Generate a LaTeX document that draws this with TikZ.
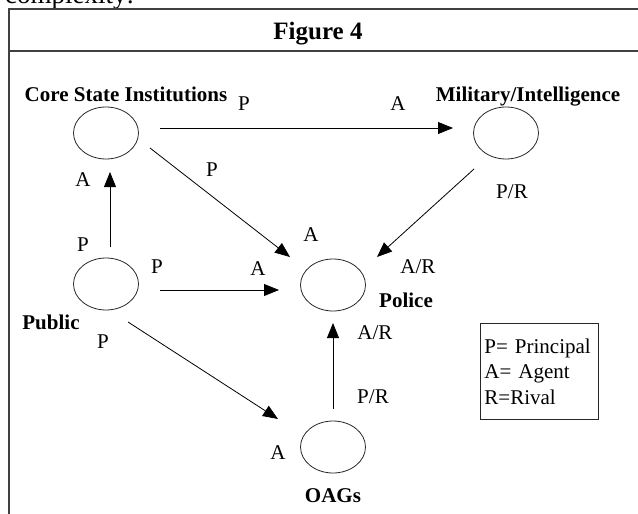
\documentclass[tikz,border=0pt]{standalone}
\usepackage{fontspec}
\setmainfont{Liberation Serif}
\usetikzlibrary{arrows.meta,shapes.geometric,calc}
\begin{document}
\begin{tikzpicture}[x=1pt,y=-1pt,
  actor/.style={draw=black!85, line width=0.8pt, ellipse, minimum width=65pt, minimum height=52pt, inner sep=0pt},
  actorname/.style={font=\fontsize{21}{25}\selectfont\bfseries, anchor=base, inner sep=0pt},
  rolelabel/.style={font=\fontsize{21}{25}\selectfont, inner sep=0pt},
  relarrow/.style={line width=0.8pt, -{Triangle[length=15pt,width=12pt]}},
  frameline/.style={line width=1.6pt, draw=black!75}]
\useasboundingbox (0,0) rectangle (638,514);
\clip (0,0) rectangle (638,514);
% cut-off body text above the figure
\node[anchor=base west, inner sep=0pt, font=\fontsize{27}{30}\selectfont] (intro) at (5,3) {complexity:};
% frame
\draw[frameline] (9,540) -- (9,9) -- (660,9);
\draw[frameline] (9,51) -- (660,51);
\node[font=\fontsize{25}{30}\selectfont\bfseries, anchor=base, inner sep=0pt] (title) at (318,39) {Figure 4};
% actors
\node[actor] (csi) at (106,133) {};
\node[actor] (mil) at (506,133) {};
\node[actor] (pub) at (106,284) {};
\node[actor] (pol) at (333,285) {};
\node[actor] (oag) at (333,447) {};
% actor names
\node[actorname] (csil) at (126,101) {Core State Institutions};
\node[actorname] (mill) at (528,101) {Military/Intelligence};
\node[actorname] (publ) at (51,329) {Public};
\node[actorname] (poll) at (406,307) {Police};
\node[actorname] (oagl) at (333,502) {OAGs};
% relations
\draw[relarrow] ($(csi)+(54,-5)$) -- ($(mil)+(-53,-5)$);
\draw[relarrow] ($(pub)+(4,-37)$) -- ($(csi)+(4,39)$);
\draw[relarrow] ($(pub)+(54,6)$) -- ($(pol)+(-54,5)$);
\draw[relarrow] ($(csi)+(44,15)$) -- ($(pol)+(-43,-28)$);
\draw[relarrow] ($(mil)+(-32,36)$) -- ($(pol)+(44,-28)$);
\draw[relarrow] ($(pub)+(22,38)$) -- ($(oag)+(-55,-28)$);
\draw[relarrow] ($(oag)+(0,-38)$) -- ($(pol)+(0,38)$);
% role labels
\node[rolelabel] (r1) at (244,104) {P};
\node[rolelabel] (r2) at (398,104) {A};
\node[rolelabel] (r3) at (212,170) {P};
\node[rolelabel] (r4) at (83,180) {A};
\node[rolelabel] (r5) at (83,245) {P};
\node[rolelabel] (r6) at (157,267) {P};
\node[rolelabel] (r7) at (258,269) {A};
\node[rolelabel] (r8) at (311,235) {A};
\node[rolelabel] (r9) at (418,267) {A/R};
\node[rolelabel] (r10) at (512,192) {P/R};
\node[rolelabel] (r11) at (103,342) {P};
\node[rolelabel] (r12) at (278,453) {A};
\node[rolelabel] (r13) at (375,333) {A/R};
\node[rolelabel] (r14) at (373,397) {P/R};
% legend
\node[draw=black!85, line width=0.9pt, anchor=north west, minimum width=118pt, minimum height=96pt,
      inner xsep=4pt, text width=110pt, align=left, font=\fontsize{21}{25.5}\selectfont] (legend) at (480,323)
  {P= Principal\\A= Agent\\R=Rival};
\end{tikzpicture}
\end{document}
